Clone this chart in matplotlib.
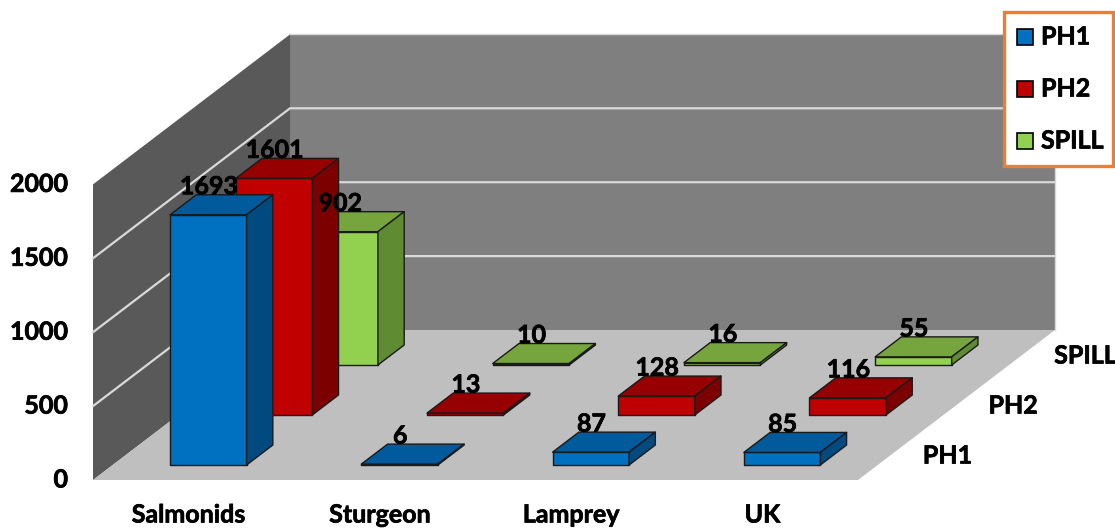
#!/usr/bin/python3
import matplotlib
matplotlib.use('Agg')
import matplotlib.pyplot as plt
import matplotlib.patheffects as pe
from matplotlib.patches import Polygon, Rectangle

plt.rcParams['font.family'] = ['Lato', 'DejaVu Sans']
plt.rcParams['font.weight'] = 'bold'

categories = ['Salmonids', 'Sturgeon', 'Lamprey', 'UK']
series_names = ['PH1', 'PH2', 'SPILL']
ph1 = [1693, 6, 87, 85]
ph2 = [1601, 13, 128, 116]
spill = [902, 10, 16, 55]
y_ticks = [0, 500, 1000, 1500, 2000]

all_series = [ph1, ph2, spill]
# front, top, side colours per series
colors = [('#0070c0', '#005a9c', '#004a80'),
          ('#c00000', '#960000', '#7c0000'),
          ('#92d050', '#76a53e', '#5f8c33')]

# oblique projection in pixels
X0, Y0 = 93.0, 480.0
CAT_W = 191.25
DEPTH_DX, DEPTH_DY = 65.67, -50.0
VAL_SCALE = 147.8 / 1000
BAR_W = 0.4
BAR_D = 0.4
FONT = 18
# Lato bold is a bit thin at this size, thicken it slightly
HEAVY = [pe.withStroke(linewidth=0.5, foreground='black')]


def label(ax, x, y, s, ha='center', z=50):
    ax.text(x, y, s, ha=ha, va='center', fontsize=FONT, color='black', zorder=z, path_effects=HEAVY)


def project(cat, depth, val):
    x = X0 + cat * CAT_W + depth * DEPTH_DX
    y = Y0 + depth * DEPTH_DY - val * VAL_SCALE
    return (x, y)


def draw_bar(ax, cat, row, val, cols, z):
    c0 = cat + (1 - BAR_W) / 2
    c1 = c0 + BAR_W
    d0 = row + (1 - BAR_D) / 2
    d1 = d0 + BAR_D
    front = [project(c0, d0, 0), project(c1, d0, 0), project(c1, d0, val), project(c0, d0, val)]
    top = [project(c0, d0, val), project(c1, d0, val), project(c1, d1, val), project(c0, d1, val)]
    side = [project(c1, d0, 0), project(c1, d1, 0), project(c1, d1, val), project(c1, d0, val)]
    for pts, col in zip((front, top, side), cols):
        ax.add_patch(Polygon(pts, closed=True, fc=col, ec='#1a1a1a', lw=1.0, joinstyle='round', zorder=z))
    # value sits a little left of the middle of the top face
    cx, cy = project(cat + 0.5, row + 0.5, val)
    label(ax, cx - 12.5, cy - 18, str(val))


fig = plt.figure(figsize=(11.15, 5.29), dpi=100)
ax = fig.add_axes([0, 0, 1, 1])
ax.set_xlim(0, 1115)
ax.set_ylim(529, 0)
ax.axis('off')

nc = len(categories)
ns = len(series_names)
top_val = y_ticks[-1]

# walls and floor
ax.add_patch(Polygon([project(0, ns, 0), project(nc, ns, 0), project(nc, ns, top_val), project(0, ns, top_val)],
                     fc='#7f7f7f', ec='none', zorder=1))
ax.add_patch(Polygon([project(0, 0, 0), project(0, ns, 0), project(0, ns, top_val), project(0, 0, top_val)],
                     fc='#595959', ec='none', zorder=1))
ax.add_patch(Polygon([project(0, 0, 0), project(nc, 0, 0), project(nc, ns, 0), project(0, ns, 0)],
                     fc='#bfbfbf', ec='none', zorder=2))

# gridlines run along the left wall and across the back wall
for t in y_ticks[1:-1]:
    ax.plot(*zip(project(0, 0, t), project(0, ns, t), project(nc, ns, t)),
            color='#d9d9d9', lw=1.6, zorder=3, solid_joinstyle='miter')
ax.plot(*zip(project(0, ns, top_val), project(nc, ns, top_val), project(nc, ns, 0)),
        color='#d9d9d9', lw=1.0, zorder=3)

# bars back to front
z = 10
for row in range(ns - 1, -1, -1):
    for cat in range(nc):
        draw_bar(ax, cat, row, all_series[row][cat], colors[row], z)
        z += 1

for t in y_ticks:
    x, y = project(0, 0, t)
    label(ax, x - 25, y, str(t), ha='right')

for i, name in enumerate(categories):
    x, y = project(i + 0.5, 0, 0)
    label(ax, x, y + 35, name)

# series names beside the floor edge
for i, name in enumerate(series_names):
    x, y = project(nc, i + 0.5, 0)
    label(ax, x + 32, y + 1, name, ha='left')

# legend box
ax.add_patch(Rectangle((1003.5, 12), 109, 154, fc='white', ec='#ed7d31', lw=2.4, zorder=60))
for i, name in enumerate(series_names):
    y = 37 + i * 52
    ax.add_patch(Rectangle((1017, y - 8), 16, 16, fc=colors[i][0], ec='black', lw=1.2, zorder=61))
    label(ax, 1041, y, name, ha='left', z=61)

fig.savefig('out.png', dpi=100)
plt.close(fig)
